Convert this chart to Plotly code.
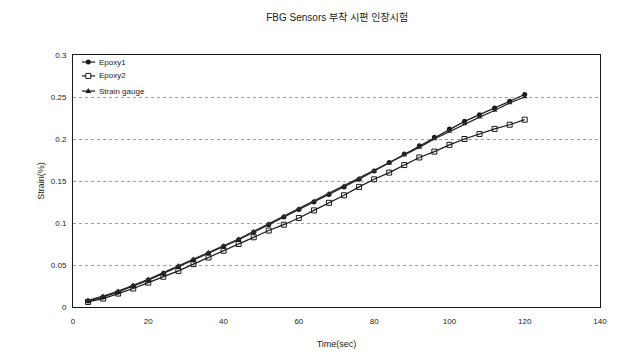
import plotly.graph_objects as go

time_sec = [4, 8, 12, 16, 20, 24, 28, 32, 36, 40, 44, 48, 52, 56, 60,
            64, 68, 72, 76, 80, 84, 88, 92, 96, 100, 104, 108, 112, 116, 120]

epoxy1 = [0.007, 0.012, 0.018, 0.025, 0.032, 0.040, 0.048, 0.056, 0.064, 0.072,
          0.080, 0.089, 0.098, 0.107, 0.116, 0.125, 0.134, 0.143, 0.152, 0.162,
          0.172, 0.182, 0.192, 0.202, 0.212, 0.221, 0.229, 0.237, 0.245, 0.253]

epoxy2 = [0.006, 0.010, 0.016, 0.022, 0.029, 0.036, 0.043, 0.051, 0.059, 0.067,
          0.075, 0.083, 0.091, 0.098, 0.106, 0.115, 0.124, 0.133, 0.143, 0.152,
          0.160, 0.169, 0.178, 0.185, 0.193, 0.200, 0.206, 0.212, 0.217, 0.223]

strain_gauge = [0.008, 0.013, 0.019, 0.026, 0.033, 0.041, 0.049, 0.057, 0.065, 0.073,
                0.081, 0.090, 0.099, 0.108, 0.117, 0.126, 0.135, 0.144, 0.153, 0.162,
                0.171, 0.181, 0.190, 0.200, 0.209, 0.218, 0.226, 0.234, 0.243, 0.250]

series_names = ["Epoxy1", "Epoxy2", "Strain gauge"]
y_ticks = [0, 0.05, 0.1, 0.15, 0.2, 0.25, 0.3]
y_tick_text = ["0", "0.05", "0.1", "0.15", "0.2", "0.25", "0.3"]
x_ticks = [0, 20, 40, 60, 80, 100, 120, 140]

FONT = "Liberation Sans, Noto Sans CJK KR, sans-serif"
INK = "#1a1a1a"

fig = go.Figure()
fig.add_trace(go.Scatter(
    x=time_sec, y=epoxy1, name=series_names[0], mode="lines+markers",
    line=dict(color=INK, width=1.2),
    marker=dict(symbol="circle", size=5, color=INK),
))
fig.add_trace(go.Scatter(
    x=time_sec, y=epoxy2, name=series_names[1], mode="lines+markers",
    line=dict(color=INK, width=1.2),
    marker=dict(symbol="square-open", size=5, color=INK, line=dict(width=1)),
))
fig.add_trace(go.Scatter(
    x=time_sec, y=strain_gauge, name=series_names[2], mode="lines+markers",
    line=dict(color="#2a2a2a", width=1.2),
    marker=dict(symbol="triangle-up", size=5, color="#2a2a2a"),
))

# custom compact legend (upper-left, inside plot)
leg_rows = [0.972, 0.917, 0.857]
lx0, lx1, lxm, ltx = 0.017, 0.042, 0.029, 0.045
shapes = []
annotations = []
for i, name in enumerate(series_names):
    yy = leg_rows[i]
    shapes.append(dict(type="line", xref="paper", yref="paper",
                       x0=lx0, x1=lx1, y0=yy, y1=yy,
                       line=dict(color=INK, width=1.2)))
    if i == 0:
        shapes.append(dict(type="circle", xref="paper", yref="paper",
                           xsizemode="pixel", ysizemode="pixel",
                           xanchor=lxm, yanchor=yy, x0=-2.5, x1=2.5, y0=-2.5, y1=2.5,
                           fillcolor=INK, line=dict(color=INK, width=0)))
    elif i == 1:
        shapes.append(dict(type="rect", xref="paper", yref="paper",
                           xsizemode="pixel", ysizemode="pixel",
                           xanchor=lxm, yanchor=yy, x0=-2.5, x1=2.5, y0=-2.5, y1=2.5,
                           fillcolor="white", line=dict(color=INK, width=1)))
    else:
        shapes.append(dict(type="path", xref="paper", yref="paper",
                           xsizemode="pixel", ysizemode="pixel",
                           xanchor=lxm, yanchor=yy, path="M-3,-2 L3,-2 L0,3 Z",
                           fillcolor=INK, line=dict(color=INK, width=0)))
    annotations.append(dict(text=name, xref="paper", yref="paper", x=ltx, y=yy,
                            xanchor="left", yanchor="middle", showarrow=False,
                            font=dict(size=8, color="#222222")))

fig.update_layout(
    width=627, height=347,
    margin=dict(l=65, r=35, t=47, b=48, autoexpand=False),
    paper_bgcolor="white", plot_bgcolor="white",
    font=dict(family=FONT, size=9, color="#222222"),
    title=dict(text="FBG Sensors 부착 시편 인장시험", x=0.525, xanchor="center",
               y=0.974, yanchor="middle", font=dict(size=10, color="#222222")),
    showlegend=False,
    shapes=shapes,
    annotations=annotations,
)
fig.update_xaxes(
    automargin=False,
    range=[0, 140], tickvals=x_ticks, ticktext=[str(v) for v in x_ticks],
    showgrid=False, zeroline=False, showline=True, linecolor=INK,
    linewidth=1, mirror=True, ticks="outside", ticklen=6, tickcolor="rgba(0,0,0,0)",
    tickfont=dict(size=8),
    title=dict(text="Time(sec)", font=dict(size=9), standoff=16),
)
fig.update_yaxes(
    automargin=False,
    range=[0, 0.3], tickvals=y_ticks, ticktext=y_tick_text,
    showgrid=True, gridcolor="#a0a0a0", griddash="dot", gridwidth=1,
    zeroline=False, showline=True, linecolor=INK, linewidth=1, mirror=True,
    ticks="outside", ticklen=4, tickcolor="rgba(0,0,0,0)", tickfont=dict(size=8),
    title=dict(text="Strain(%)", font=dict(size=9), standoff=4),
)

fig.write_html("out.html")
